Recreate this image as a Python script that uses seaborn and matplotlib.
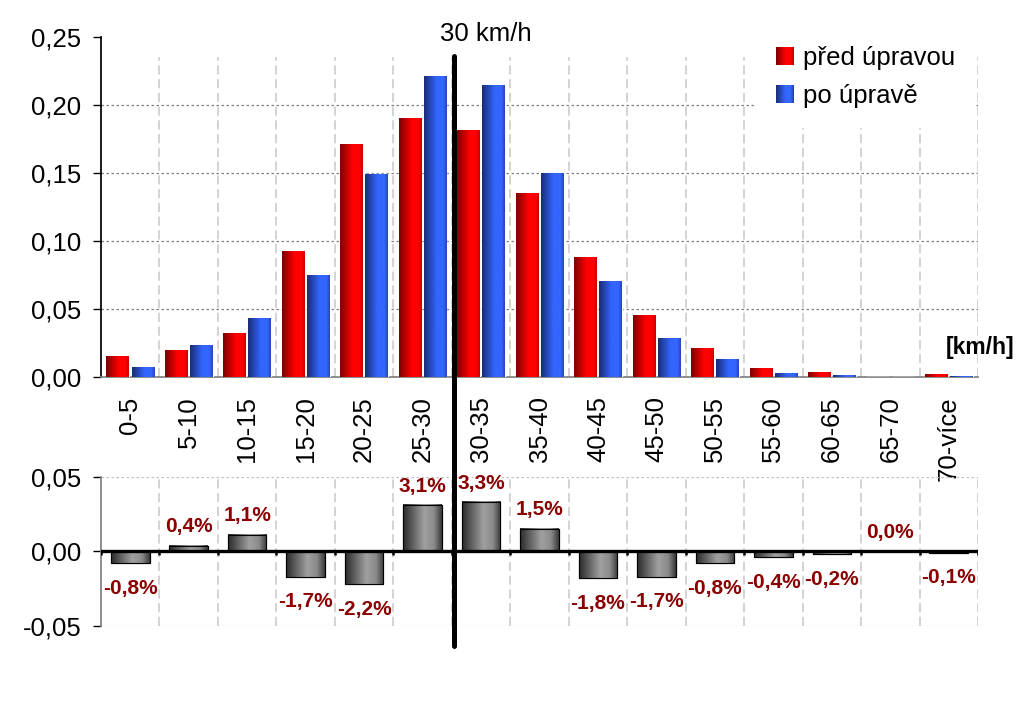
import numpy as np
import pandas as pd
import matplotlib
matplotlib.use("Agg")
import matplotlib.pyplot as plt
import seaborn as sns
from matplotlib.colors import LinearSegmentedColormap
from matplotlib.patches import Patch, Rectangle
from matplotlib.legend_handler import HandlerBase
from matplotlib.lines import Line2D
from matplotlib import transforms

# data
intervaly = ["0-5", "5-10", "10-15", "15-20", "20-25", "25-30", "30-35", "35-40",
             "40-45", "45-50", "50-55", "55-60", "60-65", "65-70", "70-více"]
pred_upravou = [0.015, 0.0195, 0.032, 0.092, 0.171, 0.190, 0.1815, 0.135,
                0.088, 0.045, 0.021, 0.0065, 0.003, 0.0, 0.0015]
po_uprave = [0.007, 0.0235, 0.043, 0.075, 0.149, 0.221, 0.2145, 0.150,
             0.070, 0.028, 0.013, 0.0025, 0.001, 0.0, 0.0005]
rozdil = [-0.008, 0.004, 0.011, -0.017, -0.022, 0.031, 0.033, 0.015,
          -0.018, -0.017, -0.008, -0.004, -0.002, 0.0, -0.001]
serie = ["před úpravou", "po úpravě"]

sns.set_theme(style="white")
plt.rcParams['font.family'] = ['Liberation Sans', 'DejaVu Sans']
plt.rcParams['text.color'] = 'black'
plt.rcParams['xtick.color'] = 'black'
plt.rcParams['ytick.color'] = 'black'
plt.rcParams['axes.labelcolor'] = 'black'

red_cmap = LinearSegmentedColormap.from_list(
    "r", [(0, "#7a0000"), (0.55, "#ff0000"), (0.85, "#ff0000"), (1, "#c80000")])
blue_cmap = LinearSegmentedColormap.from_list(
    "b", [(0, "#1a2c72"), (0.55, "#3366ff"), (0.85, "#3366ff"), (1, "#2445b0")])
gray_cmap = LinearSegmentedColormap.from_list(
    "g", [(0, "#2a2a2a"), (0.55, "#a0a0a0"), (0.8, "#8a8a8a"), (1, "#383838")])


def shade_bars(ax, patches, cmaps):
    grad = np.linspace(0, 1, 256).reshape(1, -1)
    for p, cm in zip(patches, cmaps):
        x0, y0 = p.get_x(), p.get_y()
        w, h = p.get_width(), p.get_height()
        if w == 0 or h == 0:
            continue
        ax.imshow(grad, cmap=cm, extent=(x0, x0 + w, y0, y0 + h), aspect='auto',
                  interpolation='bilinear', zorder=p.get_zorder() + 0.1)


class GradientHandler(HandlerBase):
    def __init__(self, cmap):
        super().__init__()
        self.cmap = cmap

    def create_artists(self, legend, orig_handle, xdescent, ydescent, width, height, fontsize, trans):
        n = 24
        arts = []
        for k in range(n):
            arts.append(Rectangle((-xdescent + width * k / n, -ydescent), width / n * 1.1, height,
                                  facecolor=self.cmap(k / (n - 1)), edgecolor='none', transform=trans))
        return arts


fig = plt.figure(figsize=(10.32, 7.08), dpi=100)
ax = fig.add_axes([0.0979, 0.4675, 0.8498, 0.4802])
ax2 = fig.add_axes([0.0979, 0.1158, 0.8498, 0.2105])
ax2.patch.set_visible(False)

n = len(intervaly)
hranice = np.arange(n + 1) - 0.5

# ---- top panel
df = pd.DataFrame({
    "interval": intervaly * 2,
    "podil": pred_upravou + po_uprave,
    "stav": [serie[0]] * n + [serie[1]] * n,
})
sns.barplot(data=df, x="interval", y="podil", hue="stav", hue_order=serie,
            palette=["#ff0000", "#3366ff"], width=0.86, gap=0.1, errorbar=None,
            saturation=1, legend=False, ax=ax, zorder=3)
bars = [p for p in ax.patches if isinstance(p, Rectangle)]
shade_bars(ax, bars, [red_cmap] * n + [blue_cmap] * n)

ax.hlines([0.05, 0.10, 0.15, 0.20], -0.5, 14.5, colors="#808080", linestyles=(0, (2, 2)),
          lw=0.9, zorder=1)
ax.vlines(hranice[1:], 0, 0.235, colors="#c8c8c8", linestyles=(0, (6, 3)), lw=1.1, zorder=1)

ax.set_xlim(-0.5, 14.5)
ax.set_ylim(0, 0.25)
ax.set_yticks([0, 0.05, 0.10, 0.15, 0.20, 0.25])
ax.set_yticklabels([f"{v:.2f}".replace(".", ",") for v in [0, 0.05, 0.10, 0.15, 0.20, 0.25]],
                   fontsize=18.5)
ax.set_xticks(range(n))
ax.set_xticklabels(intervaly, rotation=90, fontsize=18.5)
ax.set_xticks(hranice, minor=True)
ax.tick_params(axis='x', which='major', length=0, pad=14)
ax.tick_params(axis='x', which='minor', length=6, width=1, color="#606060", direction='out')
ax.tick_params(axis='y', length=6, width=1, color="black", direction='out', left=True, pad=8)
ax.set_xlabel("")
ax.set_ylabel("")
for s in ["top", "right"]:
    ax.spines[s].set_visible(False)
ax.spines["left"].set_color("black")
ax.spines["bottom"].set_color("#808080")

ax.text(1.042, 0.088, "[km/h]", transform=ax.transAxes, ha="right", va="center",
        fontsize=16.5, fontweight="bold")

h1 = Patch(color="#ff0000")
h2 = Patch(color="#3366ff")
leg = ax.legend([h1, h2], serie, handler_map={h1: GradientHandler(red_cmap), h2: GradientHandler(blue_cmap)},
                loc="upper left", bbox_to_anchor=(755 / 1032, 1 - 25 / 708), bbox_transform=fig.transFigure,
                borderaxespad=0, borderpad=0.8, fontsize=18.5, handlelength=0.7, handleheight=0.7,
                handletextpad=0.35, labelspacing=0.55, frameon=True, fancybox=False)
leg.get_frame().set_facecolor("white")
leg.get_frame().set_edgecolor("none")
leg.get_frame().set_alpha(1)
leg.set_zorder(5)

# ---- bottom panel
sns.barplot(x=intervaly, y=rozdil, color="#a0a0a0", width=0.66, errorbar=None, saturation=1,
            edgecolor="black", linewidth=0.8, ax=ax2, zorder=3)
bars2 = [p for p in ax2.patches if isinstance(p, Rectangle)]
shade_bars(ax2, bars2, [gray_cmap] * n)
for p in bars2:
    ax2.add_patch(Rectangle((p.get_x(), p.get_y()), p.get_width(), p.get_height(),
                            fill=False, edgecolor="black", lw=0.8, zorder=p.get_zorder() + 0.2))

ax2.hlines([-0.05, 0.05], -0.5, 14.5, colors="#c0c0c0", linestyles=(0, (2, 2)), lw=0.9, zorder=1)
ax2.vlines(hranice[1:], -0.05, 0.05, colors="#c8c8c8", linestyles=(0, (6, 3)), lw=1.1, zorder=1)
ax2.axhline(0, color="black", lw=2.4, zorder=4)
ax2.vlines(hranice, -0.0022, 0, colors="black", lw=1.8, zorder=4)

for i, v in enumerate(rozdil):
    txt = f"{v * 100:.1f}%".replace(".", ",")
    if v >= 0:
        ax2.annotate(txt, (i, v), xytext=(0, 7), textcoords="offset points", ha="center",
                     va="bottom", color="#8b0000", fontsize=15, fontweight="bold", zorder=6)
    else:
        ax2.annotate(txt, (i, v), xytext=(0, -11), textcoords="offset points", ha="center",
                     va="top", color="#8b0000", fontsize=15, fontweight="bold", zorder=6)

ax2.set_xlim(-0.5, 14.5)
ax2.set_ylim(-0.05, 0.05)
ax2.set_yticks([-0.05, 0, 0.05])
ax2.set_yticklabels([f"{v:.2f}".replace(".", ",") for v in [-0.05, 0, 0.05]], fontsize=18.5)
ax2.set_xticks([])
ax2.tick_params(axis='y', length=6, width=1, color="black", direction='out', left=True, pad=8)
for s in ["top", "right", "bottom"]:
    ax2.spines[s].set_visible(False)
ax2.spines["left"].set_color("#808080")

# ---- 30 km/h line through both panels
tr = transforms.blended_transform_factory(ax.transData, fig.transFigure)
fig.add_artist(Line2D([5.53, 5.53], [1 - 56 / 708, 1 - 646 / 708], transform=tr,
                      color="black", lw=3.6, zorder=10))
fig.text(486 / 1032, 1 - 34 / 708, "30 km/h", ha="center", va="center", fontsize=18.5)

fig.savefig("out.png", dpi=100)
